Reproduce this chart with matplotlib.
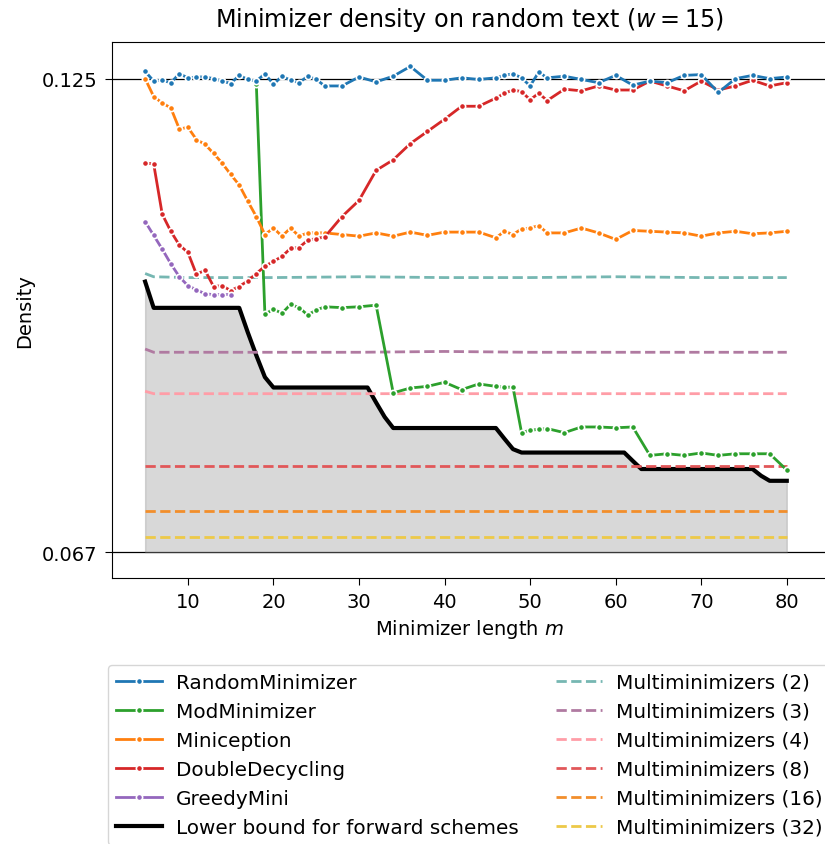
import matplotlib
matplotlib.use("Agg")
import matplotlib.pyplot as plt

plt.rcParams["font.family"] = ["DejaVu Sans"]
plt.rcParams["font.size"] = 14
plt.rcParams["xtick.major.size"] = 5
plt.rcParams["ytick.major.size"] = 5
plt.rcParams["xtick.major.pad"] = 5
plt.rcParams["ytick.major.pad"] = 5

# Window size of the schemes
w = 15

# Minimizer lengths m at which the schemes were measured
m_values = [5, 6, 7, 8, 9, 10, 11, 12, 13, 14, 15, 16, 17, 18, 19, 20, 21, 22, 23, 24, 25, 26,
            28, 30, 32, 34, 36, 38, 40, 42, 44, 46,
            47, 48, 49, 50, 51, 52,
            54, 56, 58, 60, 62, 64, 66, 68, 70, 72, 74, 76, 78, 80]

random_minimizer = [0.1259, 0.1247, 0.1248, 0.1245, 0.1256, 0.1251, 0.1252, 0.1252, 0.1250, 0.1247,
                    0.1244, 0.1254, 0.1249, 0.1247, 0.1256, 0.1243, 0.1253, 0.1248, 0.1245, 0.1253,
                    0.1249, 0.1241,
                    0.1241, 0.1252, 0.1246, 0.1253, 0.1265, 0.1248, 0.1248, 0.1251, 0.1249, 0.1251,
                    0.1254, 0.1256, 0.1251, 0.1241, 0.1258, 0.1251,
                    0.1253, 0.1249, 0.1245, 0.1254, 0.1242, 0.1247, 0.1245, 0.1254, 0.1255, 0.1233,
                    0.1250, 0.1254, 0.1250, 0.1252]

mod_m = [18, 19, 20, 21, 22, 23, 24, 25, 26,
         28, 30, 32, 34, 36, 38, 40, 42, 44, 46,
         47, 48, 49, 50, 51, 52,
         54, 56, 58, 60, 62, 64, 66, 68, 70, 72, 74, 76, 78, 80]
mod_minimizer = [0.1243, 0.0960, 0.0966, 0.0961, 0.0972, 0.0968, 0.0959, 0.0965, 0.0969,
                 0.0968, 0.0969, 0.0971, 0.0863, 0.0869, 0.0871, 0.0876, 0.0867, 0.0874, 0.0871,
                 0.0870, 0.0870, 0.0814, 0.0817, 0.0818, 0.0819,
                 0.0814, 0.0821, 0.0821, 0.0820, 0.0821, 0.0786, 0.0788, 0.0786, 0.0789, 0.0786,
                 0.0788, 0.0788, 0.0788, 0.0768]

miniception = [0.1250, 0.1228, 0.1220, 0.1214, 0.1188, 0.1190, 0.1175, 0.1169, 0.1158, 0.1146,
               0.1132, 0.1119, 0.1099, 0.1080, 0.1058, 0.1066, 0.1056, 0.1066, 0.1056, 0.1060,
               0.1060, 0.1060,
               0.1058, 0.1056, 0.1060, 0.1056, 0.1061, 0.1057, 0.1061, 0.1061, 0.1061, 0.1054,
               0.1062, 0.1058, 0.1065, 0.1066, 0.1069, 0.1060,
               0.1060, 0.1066, 0.1060, 0.1052, 0.1063, 0.1062, 0.1061, 0.1060, 0.1056, 0.1060,
               0.1062, 0.1059, 0.1060, 0.1062]

double_decycling = [0.1146, 0.1145, 0.1083, 0.1062, 0.1045, 0.1036, 0.1009, 0.1014, 0.0994, 0.0995,
                    0.0989, 0.0994, 0.1001, 0.1010, 0.1019, 0.1025, 0.1031, 0.1041, 0.1042, 0.1051,
                    0.1053, 0.1055,
                    0.1080, 0.1100, 0.1137, 0.1150, 0.1170, 0.1185, 0.1200, 0.1216, 0.1216, 0.1226,
                    0.1232, 0.1236, 0.1234, 0.1224, 0.1232, 0.1223,
                    0.1237, 0.1235, 0.1241, 0.1236, 0.1236, 0.1247, 0.1241, 0.1235, 0.1247, 0.1236,
                    0.1241, 0.1248, 0.1241, 0.1245]

greedy_m = [5, 6, 7, 8, 9, 10, 11, 12, 13, 14, 15]
greedy_mini = [0.1074, 0.1057, 0.1040, 0.1022, 0.1006, 0.0995, 0.0990, 0.0985, 0.0984, 0.0984, 0.0984]

# Lower bound for forward schemes, every m from 5 to 80
bound_m = list(range(5, 81))
lower_bound = [0.10000,
               0.09677, 0.09677, 0.09677, 0.09677, 0.09677, 0.09677, 0.09677, 0.09677, 0.09677,
               0.09677, 0.09677,
               0.09375, 0.09091, 0.08824,
               0.08696, 0.08696, 0.08696, 0.08696, 0.08696, 0.08696, 0.08696, 0.08696, 0.08696,
               0.08696, 0.08696, 0.08696,
               0.08511, 0.08333,
               0.08197, 0.08197, 0.08197, 0.08197, 0.08197, 0.08197, 0.08197, 0.08197, 0.08197,
               0.08197, 0.08197, 0.08197, 0.08197,
               0.08065, 0.07937,
               0.07895, 0.07895, 0.07895, 0.07895, 0.07895, 0.07895, 0.07895, 0.07895, 0.07895,
               0.07895, 0.07895, 0.07895, 0.07895,
               0.07792,
               0.07692, 0.07692, 0.07692, 0.07692, 0.07692, 0.07692, 0.07692, 0.07692, 0.07692,
               0.07692, 0.07692, 0.07692, 0.07692, 0.07692,
               0.07609,
               0.07547, 0.07547, 0.07547]

# Multiminimizers with n candidate orders
multi_m = [5, 6, 10, 20, 30, 40, 50, 60, 70, 80]
multi_2 = [0.1010, 0.1006, 0.1005, 0.1005, 0.1006, 0.1005, 0.1005, 0.1006, 0.1005, 0.1005]
multi_3 = [0.0917, 0.0913, 0.0913, 0.0913, 0.0913, 0.0914, 0.0913, 0.0913, 0.0913, 0.0913]
multi_4 = [0.0865, 0.0862, 0.0862, 0.0862, 0.0862, 0.0862, 0.0862, 0.0862, 0.0862, 0.0862]
multi_8 = [0.0773, 0.0773, 0.0773, 0.0773, 0.0773, 0.0773, 0.0773, 0.0773, 0.0773, 0.0773]
multi_16 = [0.0717, 0.0717, 0.0717, 0.0717, 0.0717, 0.0717, 0.0717, 0.0717, 0.0717, 0.0717]
multi_32 = [0.0686, 0.0686, 0.0686, 0.0686, 0.0686, 0.0686, 0.0686, 0.0686, 0.0686, 0.0686]

ref_levels = [0.125, 1 / 15]
ref_labels = ["0.125", "0.067"]
x_ticks = [10, 20, 30, 40, 50, 60, 70, 80]

fig = plt.figure(figsize=(8.25, 8.45), dpi=100)
ax = fig.add_axes([0.1353, 0.3148, 0.8670, 0.6340])

for level in ref_levels:
    ax.axhline(level, color="black", lw=0.9, zorder=1)

ax.fill_between(bound_m, 1 / w, lower_bound, color="gray", alpha=0.3, lw=1, zorder=1)

# solid lines; the white-edged markers break them up at every measured m
line_kw = dict(ls="-", lw=2, marker="o", ms=4.5, mec="white", mew=1.2)
h_rand, = ax.plot(m_values, random_minimizer, color="tab:blue", zorder=3.5, **line_kw)
h_mod, = ax.plot(mod_m, mod_minimizer, color="tab:green", zorder=3, **line_kw)
h_minic, = ax.plot(m_values, miniception, color="tab:orange", zorder=3, **line_kw)
h_dd, = ax.plot(m_values, double_decycling, color="tab:red", zorder=3, **line_kw)
h_greedy, = ax.plot(greedy_m, greedy_mini, color="tab:purple", zorder=3, **line_kw)
h_lb, = ax.plot(bound_m, lower_bound, color="black", lw=3, zorder=2.5)

multi_colors = ["#76b7b2", "#b07aa1", "#ff9da7", "#e15759", "#f28e2b", "#edc948"]
multi_series = [multi_2, multi_3, multi_4, multi_8, multi_16, multi_32]
multi_names = ["2", "3", "4", "8", "16", "32"]
multi_handles = []
for vals, col in zip(multi_series, multi_colors):
    h, = ax.plot(multi_m, vals, ls="--", lw=2, color=col, zorder=2.7)
    multi_handles.append(h)

ax.set_xlim(1.085, 84.69)
ax.set_ylim(0.06350, 0.12948)
ax.set_xticks(x_ticks)
ax.set_yticks(ref_levels)
ax.set_yticklabels(ref_labels)
ax.set_xlabel("Minimizer length $m$", labelpad=4.5)
ax.set_ylabel("Density", labelpad=6)
ax.set_title("Minimizer density on random text ($w = 15$)", fontsize=17.2, pad=12)

handles = [h_rand, h_mod, h_minic, h_dd, h_greedy, h_lb] + multi_handles
labels = ["RandomMinimizer", "ModMinimizer", "Miniception", "DoubleDecycling", "GreedyMini",
          "Lower bound for forward schemes"] + [f"Multiminimizers ({n})" for n in multi_names]
ax.legend(handles, labels, ncol=2, loc="upper left", fontsize=14.4,
          bbox_to_anchor=(108 / 825, 1 - 666 / 845), bbox_transform=fig.transFigure,
          borderaxespad=0, labelspacing=0.5, handlelength=2.3, handletextpad=0.7,
          columnspacing=1.85)

fig.savefig("out.png", dpi=100)
